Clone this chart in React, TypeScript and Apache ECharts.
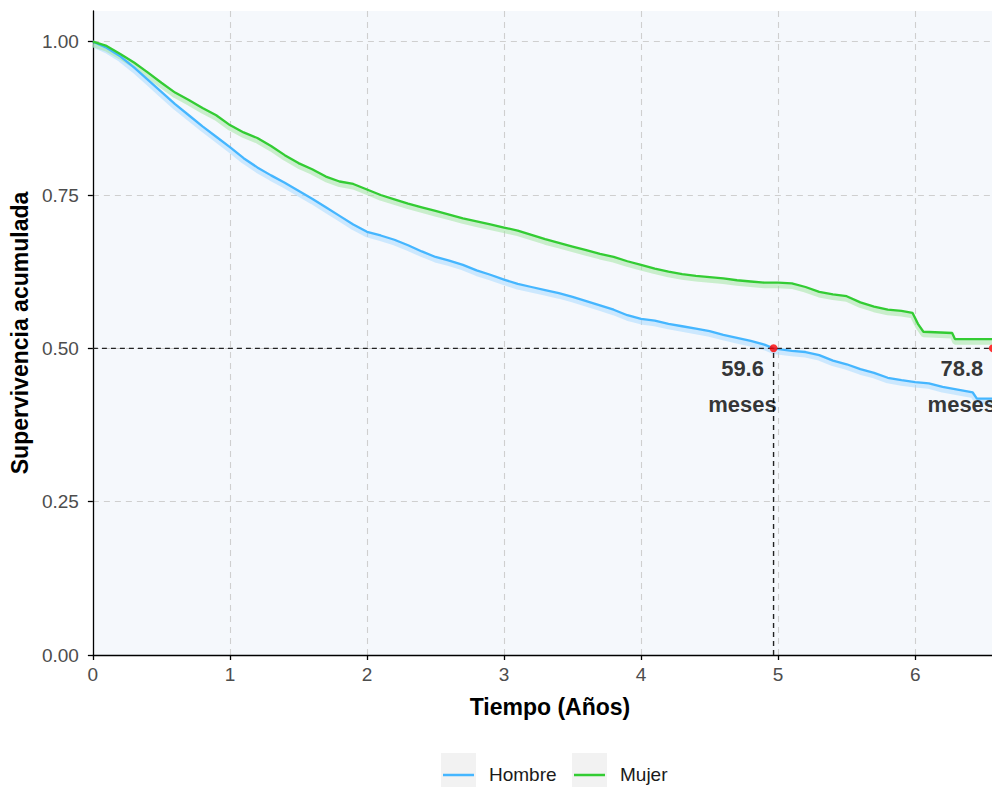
import React, { useEffect, useRef } from "react";
import * as echarts from "echarts";

// Kaplan-Meier estimates (time in years, cumulative survival)
const hombreTime = [0, 0.1, 0.2, 0.3, 0.4, 0.5, 0.6, 0.7, 0.8, 0.9, 1.0, 1.1, 1.2, 1.3, 1.4, 1.5, 1.6, 1.7, 1.8, 1.9, 2.0, 2.1, 2.2, 2.3, 2.4, 2.5, 2.6, 2.7, 2.8, 2.9, 3.0, 3.1, 3.2, 3.3, 3.4, 3.5, 3.6, 3.7, 3.8, 3.9, 4.0, 4.1, 4.2, 4.3, 4.4, 4.5, 4.6, 4.7, 4.8, 4.9, 4.967, 5.1, 5.2, 5.3, 5.4, 5.5, 5.6, 5.7, 5.8, 5.9, 6.0, 6.1, 6.2, 6.3, 6.42, 6.45, 6.67];
const hombreSurv = [1.0, 0.99, 0.976, 0.958, 0.938, 0.918, 0.898, 0.88, 0.862, 0.845, 0.828, 0.81, 0.795, 0.782, 0.77, 0.757, 0.744, 0.73, 0.716, 0.702, 0.69, 0.684, 0.677, 0.668, 0.658, 0.649, 0.643, 0.636, 0.627, 0.62, 0.612, 0.605, 0.6, 0.595, 0.59, 0.584, 0.577, 0.57, 0.563, 0.554, 0.548, 0.545, 0.54, 0.536, 0.532, 0.528, 0.522, 0.517, 0.512, 0.506, 0.5, 0.496, 0.494, 0.489, 0.48, 0.474, 0.466, 0.46, 0.452, 0.448, 0.445, 0.443, 0.437, 0.433, 0.428, 0.418, 0.418];

const mujerTime = [0, 0.1, 0.2, 0.3, 0.4, 0.5, 0.6, 0.7, 0.8, 0.9, 1.0, 1.1, 1.2, 1.3, 1.4, 1.5, 1.6, 1.7, 1.8, 1.9, 2.0, 2.1, 2.2, 2.3, 2.4, 2.5, 2.6, 2.7, 2.8, 2.9, 3.0, 3.1, 3.2, 3.3, 3.4, 3.5, 3.6, 3.7, 3.8, 3.9, 4.0, 4.1, 4.2, 4.3, 4.4, 4.5, 4.6, 4.7, 4.8, 4.9, 5.0, 5.1, 5.2, 5.3, 5.4, 5.5, 5.6, 5.7, 5.8, 5.9, 5.98, 6.02, 6.06, 6.27, 6.29, 6.567, 6.67];
const mujerSurv = [1.0, 0.993, 0.98, 0.966, 0.95, 0.933, 0.917, 0.905, 0.892, 0.88, 0.864, 0.852, 0.843, 0.83, 0.815, 0.802, 0.792, 0.78, 0.772, 0.768, 0.759, 0.75, 0.743, 0.736, 0.73, 0.724, 0.718, 0.712, 0.707, 0.702, 0.697, 0.692, 0.685, 0.678, 0.672, 0.666, 0.66, 0.654, 0.649, 0.642, 0.636, 0.63, 0.625, 0.621, 0.618, 0.616, 0.614, 0.611, 0.609, 0.607, 0.607, 0.606, 0.6, 0.592, 0.588, 0.585, 0.575, 0.568, 0.563, 0.561, 0.558, 0.54, 0.527, 0.525, 0.515, 0.515, 0.5];

const groupNames = ["Hombre", "Mujer"];
const groupColors = ["#45B6FF", "#33CC33"];
const shadowColors = ["#A9DBFF", "#A4E6A4"];
const medianMonths = [59.6, 78.8];
const xTicks = [0, 1, 2, 3, 4, 5, 6];
const yTicks = [0, 0.25, 0.5, 0.75, 1.0];

const FONT = "Liberation Sans, Arial, sans-serif";

export default function App() {
  const ref = useRef<HTMLDivElement>(null);

  useEffect(() => {
    if (!ref.current) return;
    const chart = echarts.init(ref.current, undefined, { renderer: "svg" });

    const curves = [
      hombreTime.map((t, i) => [t, hombreSurv[i]]),
      mujerTime.map((t, i) => [t, mujerSurv[i]]),
    ];

    const series: any[] = [];
    // faded censor-mark band under each curve
    curves.forEach((d, k) => {
      series.push({
        type: "line",
        data: d.map((p) => [p[0], p[1] - 0.005]),
        showSymbol: false,
        silent: true,
        lineStyle: { color: shadowColors[k], width: 5, opacity: 0.55 },
        z: 2,
      });
    });
    curves.forEach((d, k) => {
      series.push({
        type: "line",
        name: groupNames[k],
        data: d,
        showSymbol: false,
        lineStyle: { color: groupColors[k], width: 2.3 },
        z: 3,
      });
    });
    // median lines
    const medYears = medianMonths.map((m) => m / 12);
    const maxMed = Math.max(...medYears);
    series.push({
      type: "line",
      data: [
        [0, 0.5],
        [maxMed, 0.5],
      ],
      showSymbol: false,
      silent: true,
      lineStyle: { color: "#222", width: 1.4, type: [5, 4] },
      z: 4,
    });
    medYears.forEach((x) => {
      series.push({
        type: "line",
        data: [
          [x, 0],
          [x, 0.5],
        ],
        showSymbol: false,
        silent: true,
        lineStyle: { color: "#222", width: 1.4, type: [5, 4] },
        z: 4,
      });
    });
    series.push({
      type: "scatter",
      data: medYears.map((x) => [x, 0.5]),
      symbolSize: 8,
      itemStyle: { color: "#FF0000" },
      z: 5,
      label: {
        show: true,
        position: "inside",
        offset: [-31, 38],
        formatter: (p: any) => `${medianMonths[p.dataIndex]}\nmeses`,
        fontFamily: FONT,
        fontSize: 22,
        fontWeight: "bold",
        color: "#000",
        lineHeight: 36,
        align: "center",
      },
    });

    const legendGraphics: any[] = [];
    const legendX = [441, 572];
    groupNames.forEach((name, k) => {
      const x0 = legendX[k];
      legendGraphics.push({
        type: "rect",
        shape: { x: x0, y: 753, width: 35, height: 40 },
        style: { fill: "#F2F2F2" },
        silent: true,
      });
      legendGraphics.push({
        type: "line",
        shape: { x1: x0 + 2, y1: 775, x2: x0 + 33, y2: 775 },
        style: { stroke: groupColors[k], lineWidth: 2.5 },
        silent: true,
      });
      legendGraphics.push({
        type: "text",
        x: x0 + 48,
        y: 774,
        style: {
          text: name,
          fontFamily: FONT,
          fontSize: 19,
          fill: "#1a1a1a",
          verticalAlign: "middle",
        },
        silent: true,
      });
    });

    chart.setOption({
      animation: false,
      textStyle: { fontFamily: FONT },
      grid: {
        left: 91,
        top: 11,
        width: 916,
        height: 644,
        show: true,
        backgroundColor: "#F5F8FC",
        borderWidth: 0,
      },
      xAxis: {
        type: "value",
        min: 0,
        max: 6.67,
        interval: 1,
        name: "Tiempo (Años)",
        nameLocation: "middle",
        nameGap: 40,
        nameTextStyle: { fontFamily: FONT, fontSize: 23, fontWeight: "bold", color: "#000" },
        axisLine: { show: true, lineStyle: { color: "#000", width: 1.3 } },
        axisTick: { show: true, length: 5, lineStyle: { color: "#000", width: 1.3 }, customValues: xTicks },
        axisLabel: {
          fontFamily: FONT,
          fontSize: 19,
          color: "#4d4d4d",
          margin: 10,
          customValues: xTicks,
          formatter: (v: number) => String(v),
        },
        splitLine: {
          show: true,
          showMinLine: false,
          lineStyle: { color: "#CFCFCF", type: [6, 5], width: 1.1 },
        },
      },
      yAxis: {
        type: "value",
        min: 0,
        max: 1.05,
        interval: 0.25,
        name: "Supervivencia acumulada",
        nameLocation: "middle",
        nameGap: 57,
        nameTextStyle: { fontFamily: FONT, fontSize: 23, fontWeight: "bold", color: "#000" },
        axisLine: { show: true, lineStyle: { color: "#000", width: 1.3 } },
        axisTick: { show: true, length: 5, lineStyle: { color: "#000", width: 1.3 }, customValues: yTicks },
        axisLabel: {
          fontFamily: FONT,
          fontSize: 19,
          color: "#4d4d4d",
          margin: 14,
          customValues: yTicks,
          formatter: (v: number) => v.toFixed(2),
        },
        splitLine: {
          show: true,
          showMinLine: false,
          lineStyle: { color: "#CFCFCF", type: [6, 5], width: 1.1 },
        },
      },
      series,
      graphic: legendGraphics,
    });

    return () => chart.dispose();
  }, []);

  return (
    <div
      style={{
        position: "fixed",
        left: 0,
        top: 0,
        width: 992,
        height: 787,
        overflow: "hidden",
        background: "#fff",
      }}
    >
      <div ref={ref} style={{ width: 1007, height: 787 }} />
    </div>
  );
}
